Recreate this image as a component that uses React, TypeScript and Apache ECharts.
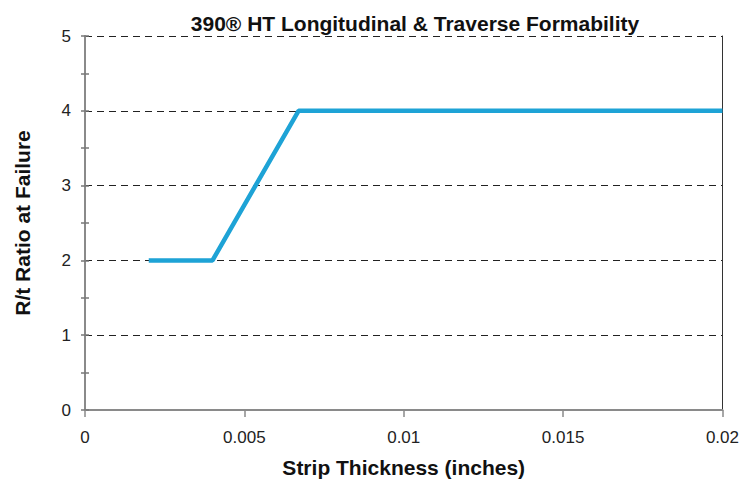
import React, { useEffect, useRef } from "react";
import * as echarts from "echarts";

const titleText = "390® HT Longitudinal & Traverse Formability";
const xAxisName = "Strip Thickness (inches)";
const yAxisName = "R/t Ratio at Failure";
const thickness = [0.002, 0.004, 0.0067, 0.02];
const ratio = [2, 2, 4, 4];

const FONT = "'Liberation Sans', Arial, sans-serif";

export default function App() {
  const ref = useRef<HTMLDivElement>(null);
  useEffect(() => {
    if (!ref.current) return;
    const chart = echarts.init(ref.current, null, { renderer: "svg" });
    const yBase = {
      type: "value",
      min: 0,
      max: 5,
      interval: 1,
    };
    chart.setOption({
      animation: false,
      backgroundColor: "#ffffff",
      title: {
        text: titleText,
        left: 410,
        textAlign: "center",
        top: 8,
        textStyle: { fontFamily: FONT, fontSize: 21, fontWeight: "bold", color: "#111" },
      },
      grid: { left: 85, right: 18, top: 36, bottom: 74 },
      xAxis: {
        type: "value",
        min: 0,
        max: 0.02,
        interval: 0.005,
        name: xAxisName,
        nameLocation: "middle",
        nameGap: 47,
        nameTextStyle: { fontFamily: FONT, fontSize: 21, fontWeight: "bold", color: "#111" },
        axisLine: { show: true, lineStyle: { color: "#8a8a8a", width: 2 } },
        axisTick: { show: true, length: 7, lineStyle: { color: "#8a8a8a", width: 1.5 } },
        axisLabel: { margin: 19, fontFamily: FONT, fontSize: 17, color: "#222" },
        splitLine: { show: false },
      },
      yAxis: [
        {
          ...yBase,
          name: yAxisName,
          nameLocation: "middle",
          nameGap: 52,
          nameTextStyle: { fontFamily: FONT, fontSize: 21, fontWeight: "bold", color: "#111" },
          axisLine: { show: true, lineStyle: { color: "#8a8a8a", width: 2 } },
          axisTick: { show: true, length: 4, lineStyle: { color: "#777", width: 1.5 } },
          minorTick: { show: true, splitNumber: 2, length: 4, lineStyle: { color: "#777", width: 1.5 } },
          axisLabel: { margin: 14, fontFamily: FONT, fontSize: 17, color: "#222" },
          splitLine: { show: true, lineStyle: { color: "#222", type: [7, 5], width: 1 } },
        },
        {
          ...yBase,
          position: "left",
          axisLine: { show: false },
          axisTick: { show: true, inside: true, length: 4, lineStyle: { color: "#777", width: 1.5 } },
          minorTick: { show: true, splitNumber: 2, length: 4, lineStyle: { color: "#777", width: 1.5 } },
          axisLabel: { show: false },
          splitLine: { show: false },
        },
        {
          ...yBase,
          position: "right",
          axisLine: { show: true, lineStyle: { color: "#333", width: 1 } },
          axisTick: { show: false },
          axisLabel: { show: false },
          splitLine: { show: false },
        },
      ],
      series: [
        {
          type: "line",
          data: thickness.map((x, i) => [x, ratio[i]]),
          showSymbol: false,
          symbol: "none",
          lineStyle: { color: "#1ea3d6", width: 4.5 },
        },
      ],
    });
    return () => chart.dispose();
  }, []);
  return <div ref={ref} style={{ width: 742, height: 484, position: "absolute", left: 0, top: 0 }} />;
}
